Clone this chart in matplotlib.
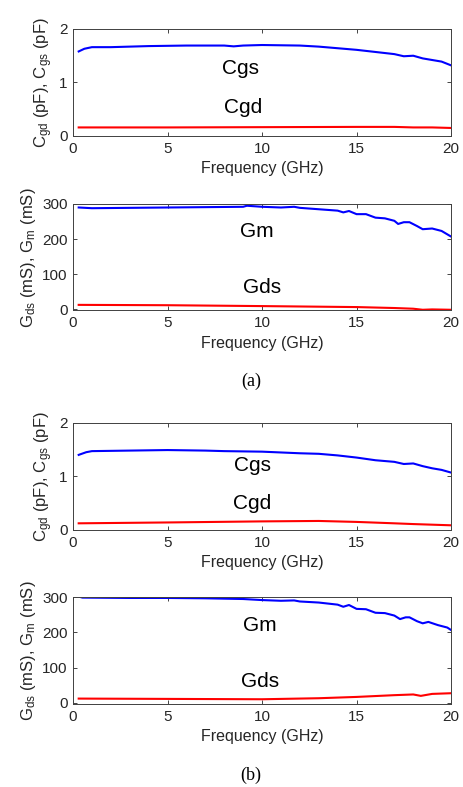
import matplotlib
matplotlib.use('Agg')
import matplotlib.pyplot as plt
import numpy as np

plt.rcParams['font.family'] = ['Liberation Sans', 'DejaVu Sans']
plt.rcParams['mathtext.fontset'] = 'custom'
plt.rcParams['mathtext.rm'] = 'Liberation Sans'
plt.rcParams['mathtext.it'] = 'Liberation Sans:italic'

# ---- panel (a) ----
f_cgs_a = [0.3, 0.6, 1, 2, 4, 6, 8, 8.5, 9, 10, 12, 13, 14, 15, 16, 17, 17.5, 18, 18.5, 19, 19.5, 20]
cgs_a = [1.58, 1.63, 1.66, 1.66, 1.68, 1.69, 1.69, 1.675, 1.69, 1.70, 1.69, 1.67, 1.64, 1.61, 1.57,
         1.53, 1.49, 1.50, 1.45, 1.42, 1.39, 1.32]
f_cgd_a = [0.3, 5, 10, 15, 17, 18, 19, 20]
cgd_a = [0.16, 0.16, 0.165, 0.17, 0.17, 0.16, 0.16, 0.15]

f_gm_a = [0.3, 1, 3, 5, 7, 9, 9.2, 10, 11, 11.7, 12, 13, 13.5, 14, 14.3, 14.6, 15, 15.5, 16, 16.5,
          17, 17.2, 17.5, 17.8, 18.2, 18.5, 19, 19.5, 20]
gm_a = [290, 288, 289, 290, 291, 292, 295, 292, 290, 292, 289, 285, 283, 281, 276, 280, 271, 271,
        261, 259, 252, 243, 248, 248, 237, 228, 230, 223, 207]
f_gds_a = [0.3, 5, 10, 15, 17, 18, 18.5, 19, 20]
gds_a = [12, 11, 8.5, 5.7, 3, 1, -2, -1, -2]

# ---- panel (b) ----
f_cgs_b = [0.3, 0.7, 1, 3, 5, 7, 8, 10, 12, 13, 14, 15, 16, 17, 17.5, 18, 18.5, 19, 19.5, 20]
cgs_b = [1.40, 1.45, 1.47, 1.48, 1.49, 1.48, 1.47, 1.46, 1.43, 1.42, 1.39, 1.35, 1.30, 1.27, 1.23,
         1.24, 1.19, 1.15, 1.12, 1.07]
f_cgd_b = [0.3, 5, 10, 13, 15, 17, 18, 20]
cgd_b = [0.124, 0.14, 0.16, 0.168, 0.15, 0.124, 0.11, 0.087]

f_gm_b = [0.3, 0.5, 3, 5, 7, 9, 10, 11, 11.7, 12, 13, 14, 14.3, 14.6, 15, 15.5, 16, 16.5, 17, 17.3,
          17.6, 17.8, 18.2, 18.5, 18.8, 19.3, 19.8, 20]
gm_b = [302, 299, 298, 298, 297, 295, 292, 290, 291, 288, 285, 279, 273, 278, 267, 266, 256, 255,
        248, 238, 243, 243, 232, 226, 230, 221, 214, 207]
f_gds_b = [0.3, 5, 10, 13, 15, 17, 18, 18.4, 19, 20]
gds_b = [12.3, 11.4, 10.4, 13.3, 17, 22, 24, 20, 25.6, 27.5]

c_label = r'C$_{\mathrm{gd}}$ (pF), C$_{\mathrm{gs}}$ (pF)'
g_label = r'G$_{\mathrm{ds}}$ (mS), G$_{\mathrm{m}}$ (mS)'

fig = plt.figure(figsize=(4.63, 7.87), dpi=100)

ax_pos = [
    [0.1577, 0.8272, 0.8165, 0.136],
    [0.1577, 0.6055, 0.8165, 0.1353],
    [0.1577, 0.3266, 0.8165, 0.1363],
    [0.1577, 0.1055, 0.8165, 0.1356],
]

panels = [
    (f_cgs_a, cgs_a, f_cgd_a, cgd_a, (0, 2), [0, 1, 2], c_label, ('Cgs', 8.84, 1.27), ('Cgd', 9.0, 0.54)),
    (f_gm_a, gm_a, f_gds_a, gds_a, (-4, 300), [0, 100, 200, 300], g_label, ('Gm', 9.7, 221), ('Gds', 10.0, 62)),
    (f_cgs_b, cgs_b, f_cgd_b, cgd_b, (0, 2), [0, 1, 2], c_label, ('Cgs', 9.47, 1.21), ('Cgd', 9.5, 0.50)),
    (f_gm_b, gm_b, f_gds_b, gds_b, (-3, 300), [0, 100, 200, 300], g_label, ('Gm', 9.9, 221), ('Gds', 9.9, 60)),
]

for pos, (fb, yb, fr, yr, ylim, yt, ylab, t1, t2) in zip(ax_pos, panels):
    ax = fig.add_axes(pos)
    ax.plot(fb, yb, color='#0000ff', lw=1.5)
    ax.plot(fr, yr, color='#ff0000', lw=1.5)
    ax.set_xlim(0, 20)
    ax.set_ylim(*ylim)
    ax.set_xticks([0, 5, 10, 15, 20])
    ax.set_yticks(yt)
    ax.tick_params(direction='in', top=True, right=True, length=3, width=0.6,
                   labelsize=11, colors='#262626', pad=4)
    for s in ax.spines.values():
        s.set_color('#404040')
        s.set_linewidth(0.7)
    ax.set_xlabel('Frequency (GHz)', fontsize=11.5, color='#262626', labelpad=4)
    ax.set_ylabel(ylab, fontsize=12, color='#262626', labelpad=3)
    for txt, tx, ty in (t1, t2):
        ax.text(tx, ty, txt, fontsize=15, ha='center', va='center', color='black')

fig.text(251 / 463, 1 - 381 / 787, '(a)', fontsize=13, family='Liberation Serif', ha='center', va='center')
fig.text(251 / 463, 1 - 775 / 787, '(b)', fontsize=13, family='Liberation Serif', ha='center', va='center')

fig.savefig('out.png', dpi=100)
